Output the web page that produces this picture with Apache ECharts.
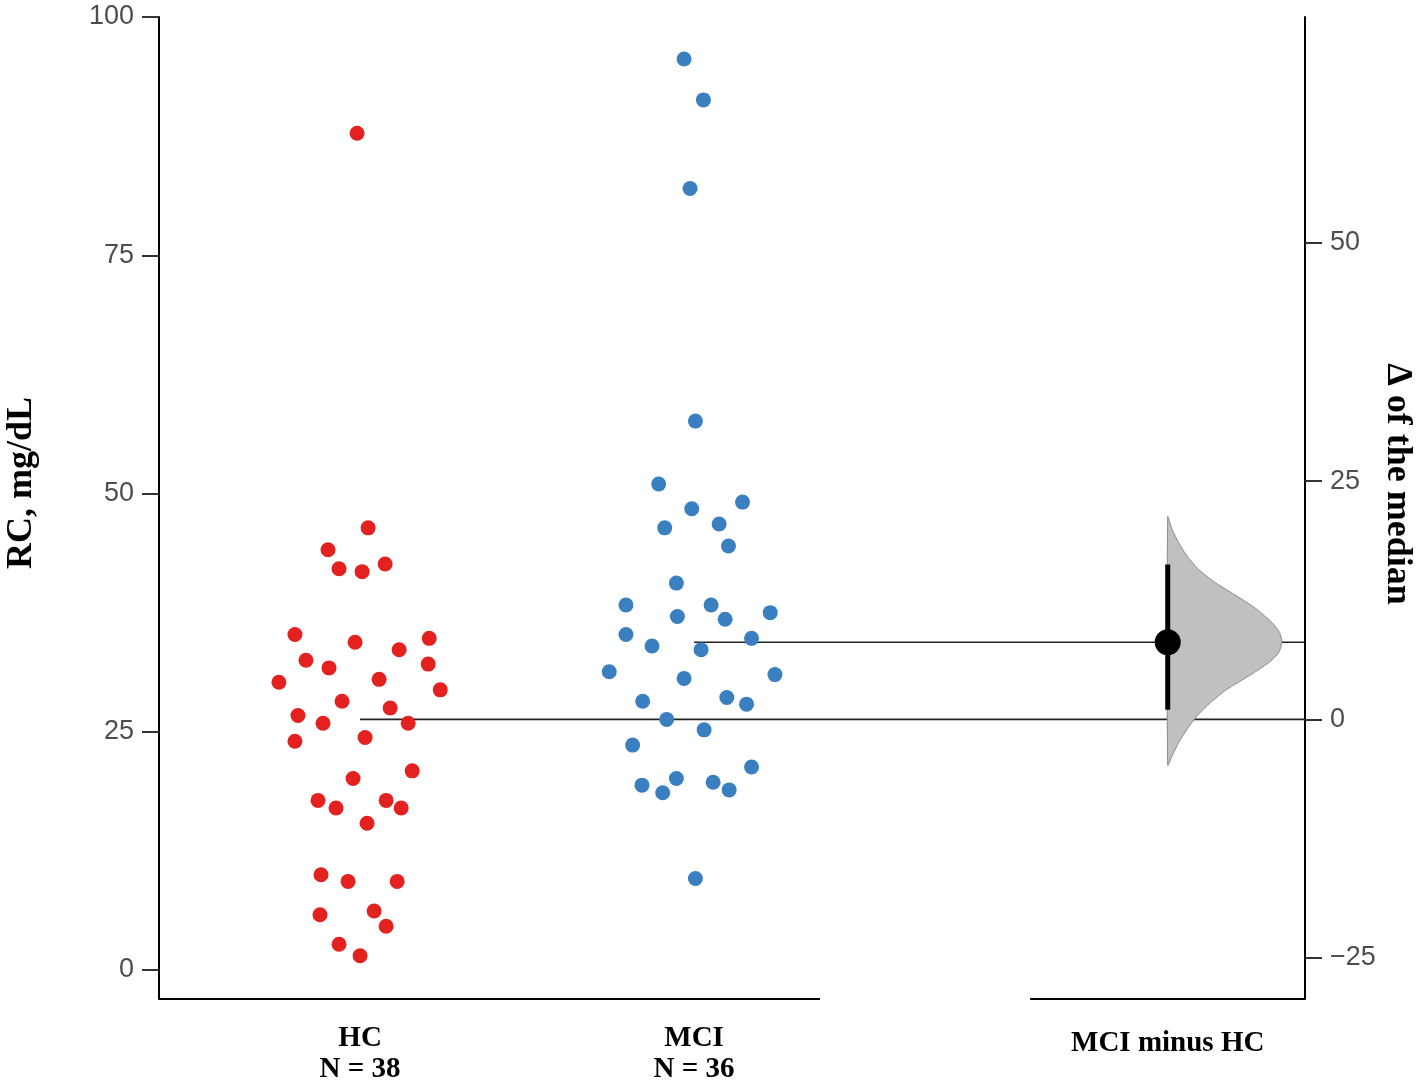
<!DOCTYPE html>
<html>
<head>
<meta charset="UTF-8">
<title>RC, MCI minus HC</title>
<script src="https://cdn.jsdelivr.net/npm/echarts@6.0.0/dist/echarts.min.js"></script>
<style>
    html, body { margin: 0; padding: 0; background: #fff; }
    #main { width: 1418px; height: 1085px; }
</style>
</head>
<body>
<div id="main"></div>
<script>
// values
var groupNames = ['HC', 'MCI'];
var hcValues = [87.8, 46.4, 44.1, 42.1, 41.8, 42.6, 35.2, 34.4, 33.6, 34.8, 32.5, 31.7, 32.1, 30.2, 30.5, 29.4, 28.2, 27.5, 26.7,
    25.9, 25.9, 24.0, 24.4, 20.9, 20.1, 17.8, 17.0, 17.8, 17.0, 15.4, 10.0, 9.3, 9.3, 5.8, 6.2, 4.6, 2.7, 1.5];
// swarm offsets of each dot (fraction of the category step)
var hcJitter = [-0.009, 0.024, -0.096, -0.063, 0.006, 0.075, -0.195, -0.015, 0.117, 0.207, -0.162, -0.093, 0.204, -0.243, 0.057,
    0.240, -0.054, 0.090, -0.186, -0.111, 0.144, -0.195, 0.015, 0.156, -0.021, -0.126, -0.072, 0.078, 0.123, 0.021, -0.117,
    -0.036, 0.111, -0.120, 0.042, 0.078, -0.063, 0.000];
var mciValues = [95.6, 91.3, 82.0, 57.6, 51.0, 49.1, 48.4, 46.4, 46.8, 44.5, 40.6, 38.3, 38.3, 37.5, 37.1, 36.8, 35.2, 34.0,
    34.8, 33.6, 31.3, 30.6, 31.0, 28.2, 28.6, 27.9, 26.3, 25.2, 23.6, 21.3, 19.4, 20.1, 18.6, 19.7, 18.9, 9.6];
var mciJitter = [-0.030, 0.028, -0.012, 0.004, -0.106, 0.145, -0.007, -0.088, 0.075, 0.103, -0.053, -0.204, 0.051, 0.228,
    -0.050, 0.093, -0.204, -0.126, 0.172, 0.021, -0.254, -0.030, 0.242, -0.154, 0.098, 0.157, -0.082, 0.030, -0.184, 0.172,
    -0.156, -0.053, -0.094, 0.057, 0.105, 0.004];

// bootstrap distribution of the difference of medians (relative density)
var deltaGrid = [21.26, 19.93, 18.53, 17.13, 15.73, 14.34, 12.94, 11.54, 10.15, 9.10, 8.11, 7.00, 5.95, 4.55, 3.16, 1.76,
    0.36, -1.04, -2.43, -3.84, -4.81];
var deltaDensity = [0, 0.038, 0.096, 0.169, 0.271, 0.417, 0.606, 0.781, 0.913, 0.980, 1, 0.971, 0.884, 0.709, 0.519, 0.374,
    0.256, 0.169, 0.096, 0.038, 0];
var deltaCI = [1.0, 16.26];

var leftTicks = [0, 25, 50, 75, 100];
var rightTicks = [-25, 0, 25, 50];

// layout
var groupPos = [0, 1];
var deltaPos = 2.418;
var xMin = -0.602, xMax = 2.829;
var axisGap = [1.377, 2.006];
var yMin = -3.04, yMax = 100;
var halfViolin = 0.342;

function median(arr) {
    var s = arr.slice().sort(function (a, b) { return a - b; });
    var n = s.length;
    return n % 2 ? s[(n - 1) / 2] : (s[n / 2 - 1] + s[n / 2]) / 2;
}
var hcMed = median(hcValues);
var mciMed = median(mciValues);
var delta = mciMed - hcMed;

var red = '#e3211f', blue = '#3a80c0';
var tickFont = 'Liberation Sans, Arial, sans-serif';
var titleFont = 'Liberation Serif, Times New Roman, serif';

function fmtMinus(v) {
    return v < 0 ? '\u2212' + Math.abs(v) : String(v);
}

var myChart = echarts.init(document.getElementById('main'));
var option = {
    animation: false,
    backgroundColor: '#fff',
    grid: { left: 159, right: 113, top: 17, bottom: 85 },
    xAxis: {
        type: 'value',
        min: xMin,
        max: xMax,
        axisLine: { show: false },
        axisTick: { show: false },
        splitLine: { show: false },
        axisLabel: {
            customValues: [groupPos[0], groupPos[1], deltaPos],
            margin: 24,
            color: '#000',
            fontFamily: titleFont,
            fontWeight: 'bold',
            fontSize: 29,
            lineHeight: 31,
            formatter: function (v) {
                if (Math.abs(v - groupPos[0]) < 1e-6) return groupNames[0] + '\nN = ' + hcValues.length;
                if (Math.abs(v - groupPos[1]) < 1e-6) return groupNames[1] + '\nN = ' + mciValues.length;
                return '{d|' + groupNames[1] + ' minus ' + groupNames[0] + '}';
            },
            rich: {
                d: { fontFamily: titleFont, fontWeight: 'bold', fontSize: 29, lineHeight: 31, color: '#000',
                    padding: [10, 0, 0, 0] }
            }
        }
    },
    yAxis: [{
        type: 'value',
        position: 'left',
        min: yMin,
        max: yMax,
        splitLine: { show: false },
        axisLine: { show: true, onZero: false, lineStyle: { color: '#000', width: 2 } },
        axisTick: { show: true, customValues: leftTicks, length: 17, lineStyle: { color: '#333', width: 2 } },
        axisLabel: { customValues: leftTicks, margin: 25, color: '#4d4d4d', fontFamily: tickFont, fontSize: 27 }
    }, {
        type: 'value',
        position: 'right',
        min: yMin - hcMed,
        max: yMax - hcMed,
        splitLine: { show: false },
        axisLine: { show: true, onZero: false, lineStyle: { color: '#000', width: 2 } },
        axisTick: { show: true, customValues: rightTicks, length: 17, lineStyle: { color: '#333', width: 2 } },
        axisLabel: { customValues: rightTicks, margin: 25, color: '#4d4d4d', fontFamily: tickFont, fontSize: 27,
            formatter: fmtMinus }
    }],
    graphic: [{
        type: 'text', x: 22, y: 483, rotation: Math.PI / 2,
        style: { text: 'RC, mg/dL', fontFamily: titleFont, fontWeight: 'bold', fontSize: 36, fill: '#000',
            align: 'center', verticalAlign: 'middle' }
    }, {
        type: 'text', x: 1397, y: 484, rotation: -Math.PI / 2,
        style: { text: '\u0394 of the median', fontFamily: titleFont, fontWeight: 'bold', fontSize: 36, fill: '#000',
            align: 'center', verticalAlign: 'middle' }
    }],
    series: [
        // broken x axis
        {
            type: 'line', silent: true, clip: false, symbol: 'none', z: 1,
            lineStyle: { color: '#000', width: 2 },
            data: [[xMin, yMin], [axisGap[0], yMin]]
        },
        {
            type: 'line', silent: true, clip: false, symbol: 'none', z: 1,
            lineStyle: { color: '#000', width: 2 },
            data: [[axisGap[1], yMin], [xMax, yMin]]
        },
        // median reference lines
        {
            type: 'line', silent: true, symbol: 'none', z: 1,
            lineStyle: { color: '#222', width: 1.6 },
            data: [[groupPos[0], hcMed], [xMax, hcMed]]
        },
        {
            type: 'line', silent: true, symbol: 'none', z: 1,
            lineStyle: { color: '#222', width: 1.6 },
            data: [[groupPos[1], mciMed], [xMax, mciMed]]
        },
        {
            name: groupNames[0], type: 'scatter', symbolSize: 15, z: 3,
            itemStyle: { color: red, opacity: 1 },
            data: hcValues.map(function (v, i) { return [groupPos[0] + hcJitter[i], v]; })
        },
        {
            name: groupNames[1], type: 'scatter', symbolSize: 15, z: 3,
            itemStyle: { color: blue, opacity: 1 },
            data: mciValues.map(function (v, i) { return [groupPos[1] + mciJitter[i], v]; })
        },
        // bootstrap distribution
        {
            type: 'custom', yAxisIndex: 1, silent: true, z: 2,
            data: [[deltaPos, delta]],
            renderItem: function (params, api) {
                var pts = deltaGrid.map(function (d, i) {
                    return api.coord([deltaPos + deltaDensity[i] * halfViolin, d]);
                });
                return {
                    type: 'polygon',
                    shape: { points: pts, smooth: 0.2 },
                    style: { fill: '#c0c0c0', stroke: '#8a8a8a', lineWidth: 1 }
                };
            }
        },
        // 95% CI
        {
            type: 'line', yAxisIndex: 1, silent: true, symbol: 'none', z: 4,
            lineStyle: { color: '#000', width: 5 },
            data: [[deltaPos, deltaCI[0]], [deltaPos, deltaCI[1]]]
        },
        {
            type: 'scatter', yAxisIndex: 1, silent: true, symbolSize: 26, z: 5,
            itemStyle: { color: '#000', opacity: 1 },
            data: [[deltaPos, delta]]
        }
    ]
};
myChart.setOption(option);
</script>
</body>
</html>
